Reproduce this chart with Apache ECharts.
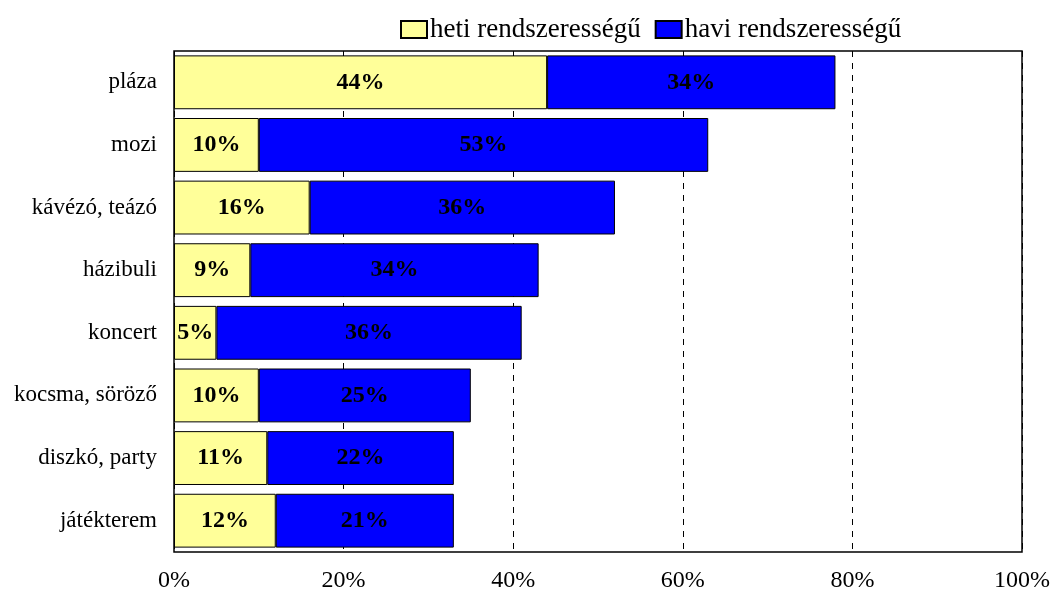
<!DOCTYPE html>
<html>
<head>
<meta charset="utf-8">
<script src="https://cdn.jsdelivr.net/npm/echarts@6/dist/echarts.min.js"></script>
<style>
  html, body { margin: 0; padding: 0; background: #fff; }
  #chart { width: 1053px; height: 593px; }
</style>
</head>
<body>
<div id="chart"></div>
<script>
// kategóriák felülről lefelé
const categories = ['pláza', 'mozi', 'kávézó, teázó', 'házibuli', 'koncert', 'kocsma, söröző', 'diszkó, party', 'játékterem'];
const heti = [44, 10, 16, 9, 5, 10, 11, 12];
const havi = [34, 53, 36, 34, 36, 25, 22, 21];
const xTicks = [0, 20, 40, 60, 80, 100];

const font = '"Liberation Serif", "Times New Roman", serif';
const chart = echarts.init(document.getElementById('chart'));

const labelStyle = {
  show: true,
  position: 'inside',
  formatter: p => p.value + '%',
  fontFamily: font,
  fontWeight: 'bold',
  fontSize: 24,
  color: '#000'
};

chart.setOption({
  animation: false,
  textStyle: { fontFamily: font },
  legend: {
    top: 11,
    left: 395,
    icon: 'rect',
    itemWidth: 26,
    itemHeight: 17,
    itemGap: 14,
    textStyle: { fontFamily: font, fontSize: 27, color: '#000', padding: [0, 0, 0, -2] },
    data: ['heti rendszerességű', 'havi rendszerességű']
  },
  grid: { left: 174, right: 31, top: 51, bottom: 41, containLabel: false, show: true, borderColor: '#000', borderWidth: 1.5 },
  xAxis: {
    type: 'value',
    min: 0,
    max: 100,
    interval: 20,
    axisLine: { show: false },
    axisTick: { show: false },
    splitLine: { show: true, lineStyle: { type: [6, 6], color: '#000', width: 1 } },
    axisLabel: { formatter: v => xTicks.includes(v) ? v + '%' : '', fontFamily: font, fontSize: 24, color: '#000', margin: 17 }
  },
  yAxis: {
    type: 'category',
    inverse: true,
    data: categories,
    axisLine: { show: false },
    axisTick: { show: false },
    axisLabel: { fontFamily: font, fontSize: 23, color: '#000', margin: 17 }
  },
  series: [
    {
      name: 'heti rendszerességű',
      type: 'bar',
      stack: 'total',
      data: heti,
      barCategoryGap: '14%',
      itemStyle: { color: '#FFFF99', borderColor: '#000', borderWidth: 1 },
      label: labelStyle
    },
    {
      name: 'havi rendszerességű',
      type: 'bar',
      stack: 'total',
      data: havi,
      itemStyle: { color: '#0000FF', borderColor: '#000', borderWidth: 1 },
      label: labelStyle
    }
  ]
});
</script>
</body>
</html>
